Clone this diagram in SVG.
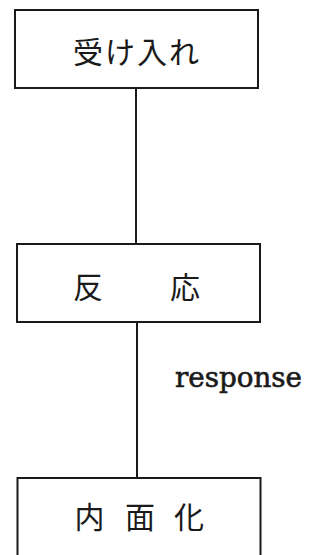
<svg xmlns="http://www.w3.org/2000/svg" width="324" height="555" viewBox="0 0 324 555">
<style>
.box{fill:#fff;stroke:#1a1a1a;stroke-width:2}
.lbl{font-family:"Noto Sans CJK JP","Noto Sans CJK SC",sans-serif;font-size:30px;fill:#1a1a1a;text-anchor:middle;dominant-baseline:central}
.edge{stroke:#1a1a1a;stroke-width:2;fill:none}
.en{font-family:"DejaVu Serif","Liberation Serif",serif;font-size:27px;fill:#1a1a1a;stroke:#1a1a1a;stroke-width:0.6}
</style>
<rect width="324" height="555" fill="#fff"/>
<g id="connectors">
<line class="edge" x1="136" y1="88" x2="136" y2="244"/>
<line class="edge" x1="137" y1="322" x2="137" y2="478"/>
<text class="en" x="175" y="387" textLength="127" lengthAdjust="spacingAndGlyphs">response</text>
</g>
<g id="node-ukeire">
<rect class="box" x="15" y="10" width="243" height="78"/>
<text class="lbl" x="137" y="50" letter-spacing="2">受け入れ</text>
</g>
<g id="node-hannou">
<rect class="box" x="17" y="244" width="243" height="78"/>
<text class="lbl" x="88 185" y="284.5">反応</text>
</g>
<g id="node-naimenka">
<rect class="box" x="17.5" y="478" width="243" height="82"/>
<text class="lbl" x="89.5 140 189" y="515">内面化</text>
</g>
</svg>
